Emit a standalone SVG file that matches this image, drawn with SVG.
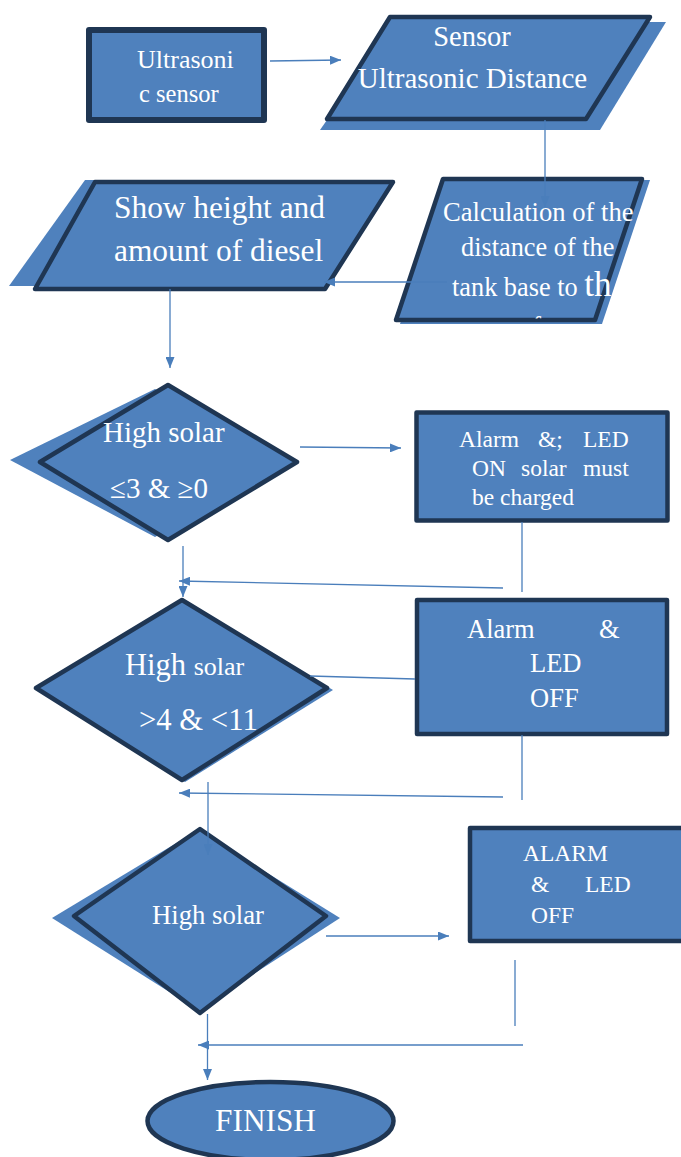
<svg xmlns="http://www.w3.org/2000/svg" width="681" height="1157" viewBox="0 0 681 1157">
<style>
.sh{fill:#4f81bd;stroke:none}
.nd{fill:#4f81bd;stroke:#1f3653;stroke-width:4.5;stroke-linejoin:round}
.ln{fill:none;stroke:#4a7ebb;stroke-width:1.3}
text{font-family:'Liberation Serif','Times New Roman',serif;fill:#ffffff}
</style>
<defs>
<marker id="ah" viewBox="0 0 11 9" refX="11" refY="4.5" markerWidth="11" markerHeight="9" markerUnits="userSpaceOnUse" orient="auto">
<path d="M0,0 L11,4.5 L0,9 z" fill="#4a7ebb"/>
</marker>
<clipPath id="calcclip"><rect x="390" y="300" width="260" height="18.5"/></clipPath>
</defs>
<rect width="681" height="1157" fill="#ffffff"/>
<g id="ultrasonic-sensor">
<rect class="nd" x="89" y="30" width="175" height="90" style="stroke-width:6"/>
<text x="137" y="68" font-size="26">Ultrasoni</text>
<text x="139" y="102" font-size="24.5">c sensor</text>
</g>
<g id="sensor-distance">
<polygon class="sh" points="395,22 666,22 600,130 320,130"/>
<polygon class="nd" points="390,17 650,17 586,119 327,119"/>
<text x="472" y="46" font-size="28.5" text-anchor="middle">Sensor</text>
<text x="472.5" y="88" font-size="29" text-anchor="middle">Ultrasonic Distance</text>
</g>
<g id="calculation">
<polygon class="sh" points="447,180 650,180 602,324 400,324"/>
<polygon class="nd" points="443,179 642,179 595,320 396,320"/>
<text x="443" y="221" font-size="26.6">Calculation of the</text>
<text x="461" y="256" font-size="26.3">distance of the</text>
<text x="452" y="296" font-size="26.3">tank base to <tspan font-size="35">th</tspan></text>
<text x="538" y="335" font-size="26.3" text-anchor="middle" clip-path="url(#calcclip)">surface</text>
</g>
<g id="show-height">
<polygon class="sh" points="85,180 383,180 315,286 9,286"/>
<polygon class="nd" points="95,182 393,182 325,289 35,289"/>
<text x="114" y="218" font-size="31.4">Show height and</text>
<text x="114" y="261" font-size="31.4">amount of diesel</text>
</g>
<g id="decision-1">
<polygon class="sh" points="155,389 290,462 155,537 10,460"/>
<polygon class="nd" points="168,385 297,462 168,540 40,462"/>
<text x="103" y="442" font-size="29">High solar</text>
<text x="110" y="498" font-size="29">≤3 &amp; ≥0</text>
</g>
<g id="alarm-led-on">
<rect class="nd" x="416.5" y="412.5" width="251" height="108"/>
<text x="459" y="447" font-size="23.5">Alarm</text>
<text x="538" y="447" font-size="23.5">&amp;;</text>
<text x="583" y="447" font-size="23.5">LED</text>
<text x="472" y="476" font-size="23.5">ON</text>
<text x="521" y="476" font-size="23.5">solar</text>
<text x="583" y="476" font-size="23.5">must</text>
<text x="472" y="505" font-size="23.5">be charged</text>
</g>
<g id="decision-2">
<polygon class="sh" points="185,600 333,690 185,782 38,690"/>
<polygon class="nd" points="182,600 327,688 182,780 36,688"/>
<text x="125" y="675" font-size="30.5">High <tspan font-size="26">solar</tspan></text>
<text x="139" y="730" font-size="30.7">&gt;4 &amp; &lt;11</text>
</g>
<g id="alarm-led-off">
<rect class="nd" x="417" y="600" width="250" height="134"/>
<text x="467" y="638" font-size="26.5">Alarm</text>
<text x="599" y="638" font-size="26.5">&amp;</text>
<text x="530" y="672" font-size="26.5">LED</text>
<text x="530" y="707" font-size="26.5">OFF</text>
</g>
<g id="decision-3">
<polygon class="sh" points="198,830 340,918 198,1010 52,918"/>
<polygon class="nd" points="200,829 326,916 200,1013 74,916"/>
<text x="208" y="924" font-size="26.7" text-anchor="middle">High solar</text>
</g>
<g id="alarm-led-off-2">
<rect class="nd" x="470" y="828" width="215" height="113"/>
<text x="523" y="861" font-size="23.5">ALARM</text>
<text x="531" y="892" font-size="23.5">&amp;</text>
<text x="585" y="892" font-size="23.5">LED</text>
<text x="531" y="923" font-size="23.5">OFF</text>
</g>
<g id="finish">
<ellipse class="nd" cx="270.5" cy="1121" rx="123" ry="39"/>
<text x="265.5" y="1131" font-size="31.3" text-anchor="middle">FINISH</text>
</g>
<g id="connectors">
<line class="ln" x1="270" y1="61" x2="341" y2="60" marker-end="url(#ah)"/>
<line class="ln" x1="545" y1="120" x2="545" y2="207" marker-end="url(#ah)"/>
<line class="ln" x1="447" y1="282" x2="324" y2="282" marker-end="url(#ah)"/>
<line class="ln" x1="170" y1="289" x2="170" y2="368" marker-end="url(#ah)"/>
<line class="ln" x1="300" y1="447" x2="401" y2="448" marker-end="url(#ah)"/>
<line class="ln" x1="522" y1="522" x2="522" y2="592"/>
<line class="ln" x1="503" y1="588" x2="179" y2="581" marker-end="url(#ah)"/>
<line class="ln" x1="183" y1="546" x2="183" y2="597" marker-end="url(#ah)"/>
<line class="ln" x1="415" y1="679" x2="310" y2="676"/>
<line class="ln" x1="522" y1="735" x2="522" y2="800"/>
<line class="ln" x1="503" y1="797" x2="179" y2="793" marker-end="url(#ah)"/>
<line class="ln" x1="208" y1="782" x2="208" y2="855" marker-end="url(#ah)"/>
<line class="ln" x1="326" y1="936" x2="449" y2="936" marker-end="url(#ah)"/>
<line class="ln" x1="515" y1="960" x2="515" y2="1026"/>
<line class="ln" x1="523" y1="1045" x2="198" y2="1045" marker-end="url(#ah)"/>
<line class="ln" x1="207.5" y1="1014" x2="207.5" y2="1080" marker-end="url(#ah)"/>
</g>
</svg>
